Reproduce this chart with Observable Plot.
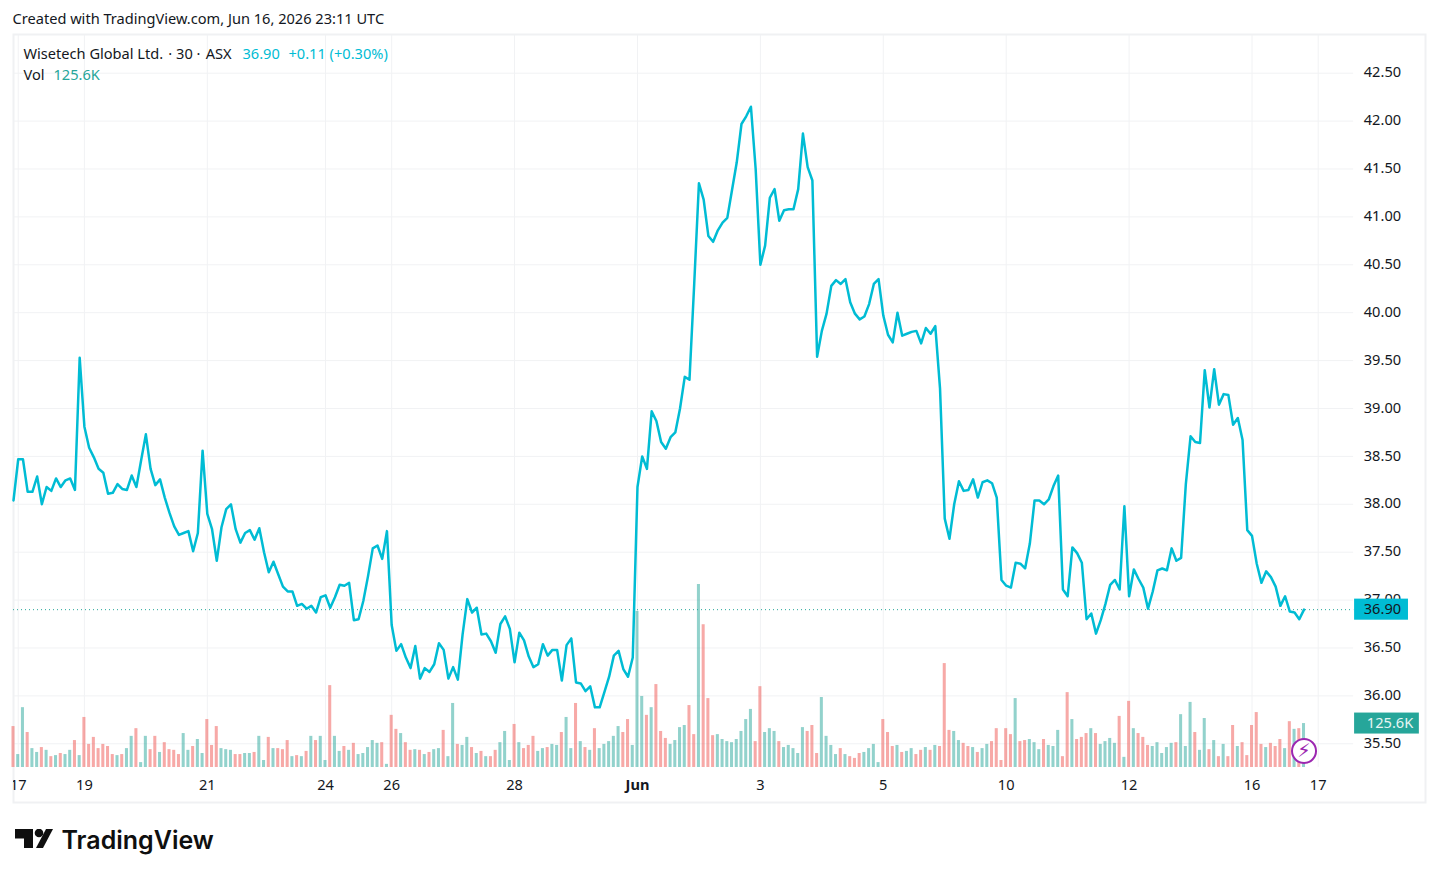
<!DOCTYPE html>
<html>
<head>
<meta charset="utf-8">
<script src="https://cdn.jsdelivr.net/npm/d3@7"></script>
<script src="https://cdn.jsdelivr.net/npm/@observablehq/plot@0.6"></script>
<style>
html,body{margin:0;padding:0;background:#fff;overflow:hidden}
#wrap{position:relative;width:1438px;height:877px}
#wrap>svg.main{position:absolute;left:0;top:0;display:block}
#wrap>svg.logo{position:absolute;left:15px;top:829px;display:block}
</style>
</head>
<body>
<div id="wrap"></div>
<script>
// Close price of each 30-minute bar
const closes = [
38.04,38.47,38.47,38.13,38.13,38.29,38.00,38.18,38.14,38.27,
38.18,38.25,38.27,38.15,39.53,38.81,38.59,38.49,38.37,38.33,
38.11,38.12,38.21,38.16,38.15,38.30,38.18,38.46,38.73,38.37,
38.20,38.26,38.07,37.91,37.77,37.68,37.70,37.72,37.51,37.70,
38.56,37.90,37.74,37.41,37.76,37.95,38.00,37.74,37.60,37.70,
37.73,37.63,37.75,37.50,37.29,37.40,37.27,37.14,37.09,37.09,
36.94,36.96,36.91,36.94,36.87,37.03,37.05,36.92,37.03,37.16,
37.15,37.18,36.79,36.80,36.99,37.25,37.54,37.57,37.43,37.72,
36.74,36.47,36.54,36.40,36.29,36.52,36.18,36.29,36.25,36.33,
36.55,36.48,36.18,36.30,36.17,36.64,37.01,36.87,36.92,36.64,
36.65,36.57,36.45,36.75,36.83,36.70,36.35,36.66,36.58,36.41,
36.30,36.33,36.54,36.42,36.48,36.48,36.16,36.53,36.60,36.14,
36.13,36.05,36.10,35.88,35.88,36.04,36.20,36.42,36.47,36.28,
36.20,36.40,38.18,38.50,38.37,38.97,38.87,38.65,38.58,38.70,
38.75,39.00,39.33,39.30,40.30,41.35,41.18,40.80,40.74,40.86,
40.94,40.99,41.28,41.57,41.97,42.05,42.15,41.50,40.50,40.70,
41.20,41.29,40.96,41.07,41.08,41.08,41.29,41.87,41.52,41.38,
39.54,39.81,39.99,40.28,40.34,40.30,40.35,40.11,39.99,39.93,
39.96,40.09,40.30,40.35,39.97,39.77,39.69,40.00,39.76,39.78,
39.80,39.81,39.68,39.84,39.78,39.86,39.21,37.85,37.64,38.00,
38.24,38.14,38.15,38.26,38.07,38.23,38.25,38.22,38.07,37.21,
37.15,37.13,37.39,37.38,37.33,37.59,38.04,38.04,38.00,38.05,
38.19,38.30,37.11,37.04,37.55,37.49,37.39,36.80,36.86,36.65,
36.79,36.96,37.16,37.21,37.11,37.98,37.04,37.32,37.22,37.13,
36.91,37.09,37.31,37.33,37.31,37.54,37.41,37.44,38.21,38.71,
38.65,38.64,39.40,39.01,39.41,39.04,39.15,39.14,38.83,38.90,
38.67,37.73,37.67,37.38,37.18,37.30,37.24,37.14,36.94,37.04,
36.88,36.87,36.80,36.90];

// Volume of each bar, in thousands
const volumes = [
117,37,171,100,54,43,57,49,31,34,
40,37,49,77,34,143,66,86,54,66,
60,37,34,37,54,89,111,14,89,51,
89,43,71,51,49,37,97,49,60,80,
40,137,63,117,54,51,49,37,37,40,
40,43,89,20,86,54,54,51,77,31,
34,31,46,89,77,89,20,234,89,46,
60,49,69,37,40,57,77,69,71,9,
149,109,97,71,49,51,49,37,43,51,
54,106,31,183,66,63,86,57,40,46,
31,31,49,71,103,20,123,71,54,63,
89,46,54,57,66,63,100,143,54,183,
74,57,49,111,54,66,74,89,117,100,
137,63,446,203,149,171,237,103,83,66,
77,114,120,177,94,523,408,197,91,94,
80,74,71,80,103,137,166,74,231,100,
111,103,74,57,63,54,40,114,103,120,
40,200,89,63,37,54,37,31,26,40,
43,54,66,14,137,100,60,63,43,46,
54,37,49,57,49,63,60,297,106,103,
77,69,60,57,43,54,66,74,111,20,
111,94,197,74,77,80,71,51,80,63,
60,106,31,214,137,80,86,97,111,97,
66,74,83,69,146,29,189,111,97,86,
63,60,71,40,57,69,71,151,60,186,
100,49,140,51,77,31,66,31,120,60,
71,34,120,157,66,57,69,60,80,54,
131,109,111,125.6];

// Direction of each volume bar: u = up (teal), d = down (red)
const directions = [
"duuduududu","duududdddd","dduduuduud","dudddduudu","uddduuuddu",
"uduududddu","dududuuduu","duduuuuudu","dduddududu","uduuduudud",
"udduuududd","duuduuduud","ududuuuuud","duuududddu","uuuddudddu",
"uuuuuuuddu","uuduuuuudd","duuuududdd","uuuudddudu","uddududddu",
"udduduuddd","ddudduuudu","uuddudddud","uuuudududd","duuuuuduuu",
"duudududdu","dddddudddu","dudu"
].join("").split("");

// Axis labels and where they fall
const priceTicks = [42.5,42,41.5,41,40.5,40,39.5,39,38.5,38,37.5,37,36.5,36,35.5];
const dayLabels = ["17","19","21","24","26","28","Jun","3","5","10","12","16","17"];
const dayBars   = [1,15,41,66,80,106,132,158,184,210,236,262,276];

const lastPrice = 36.90;
const lastVolume = 125.6;

const ink = "#131722", cyan = "#00bcd4", teal = "#26a69a", gridColor = "#f1f2f4";
const font = "'Noto Sans', sans-serif", fs = 14.6;
const bars = closes.map((c,i)=>({i,c,v:volumes[i],d:directions[i]}));
const days = dayBars.map((bar,i)=>({bar,label:dayLabels[i]}));
const W = 1438, H = 877;
const xScale = {domain:[0,298.7],range:[13,1425]};
const gridEnd = 283.5, axisLabelX = 289.8, badgeL = 283.7, priceBadgeR = 295.1, volBadgeR = 297.4;
const yTop = 42.904, yBottom = 34.887, plotFloor = 35.253, dayLabelY = 35.065;
const base = {width:W,height:H,marginLeft:13,marginRight:13,marginTop:34,marginBottom:75};

const volPlot = Plot.plot({...base,
  x:{...xScale,axis:null},
  y:{domain:[0,523],range:[767,584],axis:null},
  marks:[
    Plot.rectY(bars,{x1:d=>d.i-0.32,x2:d=>d.i+0.32,y1:0,y2:"v",
      fill:d=>d.d==="u"?teal:"#ef5350",fillOpacity:0.5,clip:true}),
    Plot.rectY([lastVolume],{x1:badgeL,x2:volBadgeR,y1:d=>d-30,y2:d=>d+30,fill:teal}),
    Plot.text(["125.6K"],{x:291.2,y:[lastVolume],text:d=>d,fill:"#e6f5f3",fontSize:fs,fontFamily:font})
  ]
});

const textAt = (s,dx,dy,fill=ink,extra={}) => Plot.text([s],{frameAnchor:"top-left",lineAnchor:"middle",dx,dy,text:d=>d,textAnchor:"start",fill,fontSize:fs,fontFamily:font,...extra});

const chart = Plot.plot({...base,
  x:{...xScale,axis:null},
  y:{domain:[yBottom,yTop],axis:null},
  marks:[
    Plot.ruleY(priceTicks,{x1:0,x2:gridEnd,stroke:gridColor,strokeWidth:1}),
    Plot.ruleX(dayBars,{y1:plotFloor,y2:yTop,stroke:gridColor,strokeWidth:1}),
    Plot.frame({stroke:"#f0f1f3",strokeWidth:2}),
    Plot.ruleY([lastPrice],{x1:0,x2:gridEnd,stroke:teal,strokeWidth:1,strokeDasharray:"1,3"}),
    Plot.line(bars,{x:"i",y:"c",stroke:cyan,strokeWidth:2.5,strokeLinejoin:"round"}),
    Plot.text(priceTicks,{x:axisLabelX,y:d=>d,dx:-1,dy:-0.5,text:d=>d.toFixed(2),fill:ink,fontSize:fs,fontFamily:font}),
    Plot.text(days.filter(d=>d.label!=="Jun"),{x:"bar",y:dayLabelY,text:"label",fill:ink,fontSize:fs,fontFamily:font,clip:true}),
    Plot.text(days.filter(d=>d.label==="Jun"),{x:"bar",y:dayLabelY,text:"label",fill:ink,fontSize:fs,fontWeight:700,fontFamily:font}),
    Plot.rectY([lastPrice],{x1:badgeL,x2:priceBadgeR,y1:d=>d-0.11,y2:d=>d+0.11,fill:cyan}),
    Plot.text([lastPrice],{x:axisLabelX,y:d=>d,dx:-1,text:d=>d.toFixed(2),fill:ink,fontSize:fs,fontFamily:font}),
    Plot.dot([bars[bars.length-1]],{x:"i",y:35.425,r:12,stroke:"#9c27b0",strokeWidth:2,fill:"#fff"}),
    Plot.text(["\u26A1"],{x:bars.length-1,y:35.425,text:d=>d,fill:"#9c27b0",fontSize:19,fontFamily:"DejaVu Sans"}),
    textAt("Created with TradingView.com, Jun 16, 2026 23:11 UTC",-1,-15),
    textAt("Wisetech Global Ltd. \u200A\u00B7 30 \u00B7\u200A ASX",10,20),
    textAt("36.90",229,20,cyan),
    textAt("+0.11 (+0.30%)",275,20,cyan),
    textAt("Vol",10,41),
    textAt("125.6K",40,41,teal),
    Plot.text(["TradingView"],{frameAnchor:"bottom-left",lineAnchor:"middle",dx:48,dy:38,text:d=>d,textAnchor:"start",fill:"#0f0f0f",fontSize:25,fontWeight:600,fontFamily:"Inter, sans-serif"})
  ]
});

// Merge the volume pane into the price chart, under the price line
const lineMark = chart.querySelector('g[aria-label="line"]');
[...volPlot.children].filter(n=>n.tagName.toLowerCase()==="g").forEach(n=>chart.insertBefore(n,lineMark));

chart.classList.add("main");
const wrap = document.getElementById("wrap");
wrap.appendChild(chart);
wrap.insertAdjacentHTML("beforeend",`<svg class="logo" width="40" height="20" viewBox="0 0 40 20"><path fill="#0f0f0f" d="M0 0h18v19h-9v-9.500H0z"/><circle fill="#0f0f0f" cx="24" cy="4" r="4.300"/><path fill="#0f0f0f" d="M31 0h7L28 19h-7z"/></svg>`);
</script>
</body>
</html>
